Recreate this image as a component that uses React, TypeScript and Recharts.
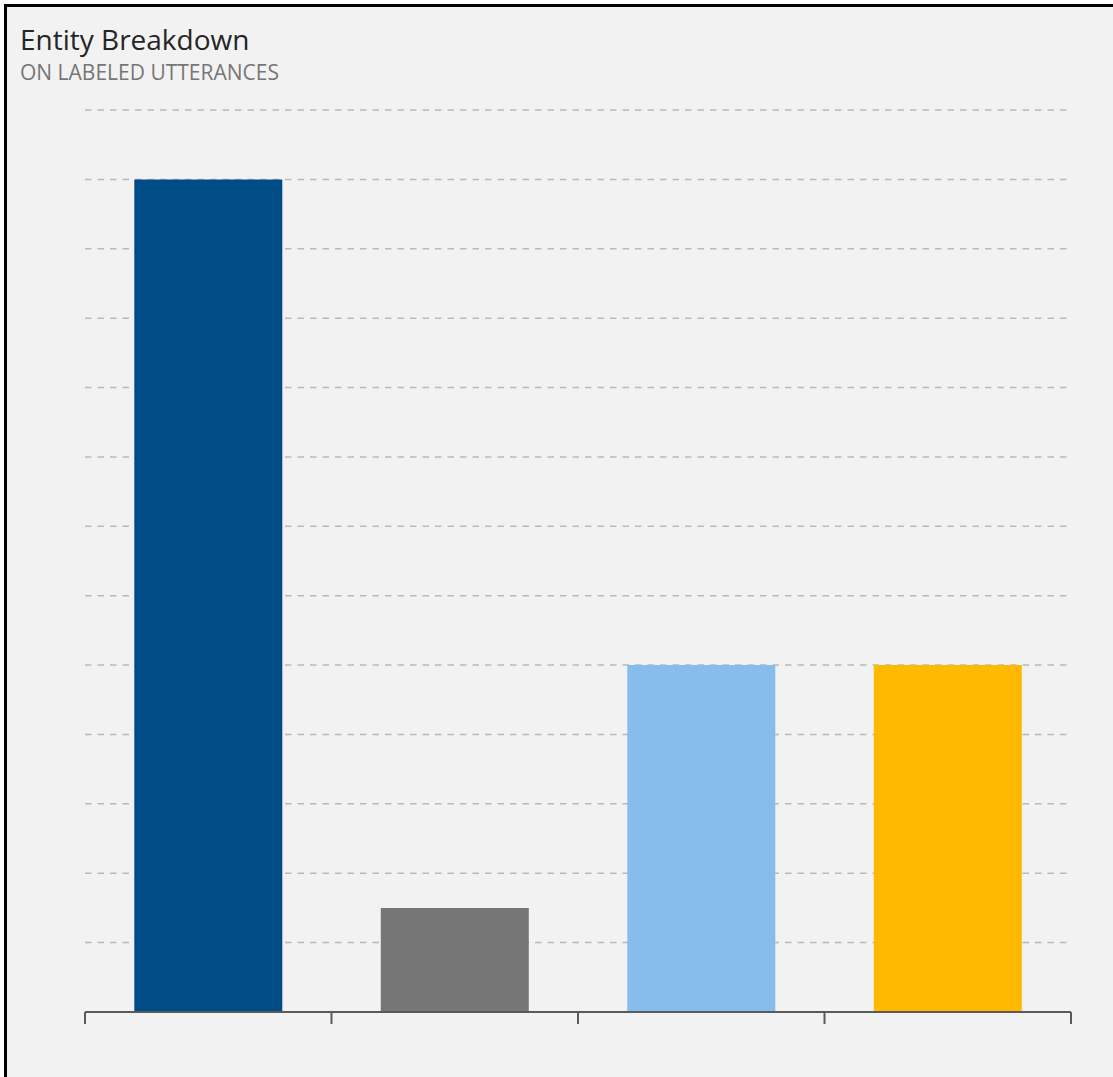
import { Bar, BarChart, CartesianGrid, Cell, XAxis, YAxis } from "recharts"

// entity names aren't shown in the picture, so keep generic labels
const categories = ["Entity A", "Entity B", "Entity C", "Entity D"]
const counts = [12, 1.5, 5, 5]
const barColors = ["#004c87", "#767676", "#86bdea", "#ffb900"]
const yTicks = [0, 1, 2, 3, 4, 5, 6, 7, 8, 9, 10, 11, 12, 13]
const edgeTicks = [0, 1, 2, 3, 4]

const chartData = categories.map((name, i) => ({ name, count: counts[i], pos: i + 0.5 }))

export default function App() {
  return (
    <div style={{ position: "absolute", left: 0, top: 0, width: 1113, height: 1077, background: "#fff", overflow: "hidden" }}>
      <div
        style={{
          position: "absolute",
          left: 4,
          top: 4,
          right: -10,
          bottom: -10,
          borderTop: "3px solid #000",
          borderLeft: "3px solid #000",
          background: "#f2f2f2",
        }}
      />
      <div
        style={{
          position: "absolute",
          left: 20,
          top: 23,
          fontFamily: "'Open Sans', sans-serif",
          fontSize: 28,
          lineHeight: "32px",
          color: "#252525",
          whiteSpace: "nowrap",
        }}
      >
        Entity Breakdown
      </div>
      <div
        style={{
          position: "absolute",
          left: 20,
          top: 60,
          fontFamily: "'Open Sans', sans-serif",
          fontSize: 21,
          lineHeight: "24px",
          color: "#767676",
          whiteSpace: "nowrap",
        }}
      >
        ON LABELED UTTERANCES
      </div>
      <div style={{ position: "absolute", left: 0, top: 0 }}>
        <BarChart
          width={1113}
          height={1077}
          data={chartData}
          margin={{ top: 110, right: 42, bottom: 53, left: 85 }}
          barCategoryGap="20%"
        >
          <CartesianGrid vertical={false} stroke="#b9b9b9" strokeWidth={1.5} strokeDasharray="6.5 6" />
          <YAxis hide domain={[0, 13]} ticks={yTicks} />
          <XAxis dataKey="name" hide height={0} />
          <XAxis
            xAxisId="edges"
            type="number"
            dataKey="pos"
            domain={[0, 4]}
            ticks={edgeTicks}
            tickFormatter={() => ""}
            tickSize={12}
            height={12}
            axisLine={{ stroke: "#5a5a5a", strokeWidth: 2 }}
            tickLine={{ stroke: "#5a5a5a", strokeWidth: 2 }}
          />
          <Bar dataKey="count" isAnimationActive={false}>
            {chartData.map((d, i) => (
              <Cell key={d.name} fill={barColors[i]} />
            ))}
          </Bar>
        </BarChart>
      </div>
    </div>
  )
}
